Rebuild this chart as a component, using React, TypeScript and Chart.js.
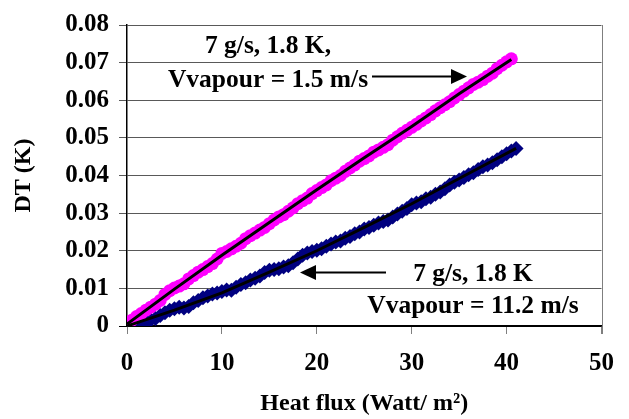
import React, { useEffect, useRef } from "react";
import { Chart, registerables } from "chart.js";

Chart.register(...registerables);

// Heat flux (W/m²) sample positions
const fluxLowV: number[] = [
  0, 0.5, 1, 1.5, 2, 2.5, 3, 3.5, 4, 4.5, 5, 5.5, 6, 6.5, 7, 7.5, 8, 8.5, 9, 9.5,
  10, 10.5, 11, 11.5, 12, 12.5, 13, 13.5, 14, 14.5, 15, 15.5, 16, 16.5, 17, 17.5, 18, 18.5, 19, 19.5,
  20, 20.5, 21, 21.5, 22, 22.5, 23, 23.5, 24, 24.5, 25, 25.5, 26, 26.5, 27, 27.5, 28, 28.5, 29, 29.5,
  30, 30.5, 31, 31.5, 32, 32.5, 33, 33.5, 34, 34.5, 35, 35.5, 36, 36.5, 37, 37.5, 38, 38.5, 39, 39.5,
  40, 40.5,
];
// DT (K) for Vvapour = 1.5 m/s (magenta)
const dtLowV: number[] = [
  0.0008, 0.0015, 0.0025, 0.0033, 0.0042, 0.005, 0.0058, 0.0068, 0.0084, 0.0094,
  0.0101, 0.0106, 0.0112, 0.0125, 0.0134, 0.0143, 0.015, 0.0158, 0.0166, 0.0178,
  0.0193, 0.0198, 0.0205, 0.0212, 0.022, 0.0232, 0.024, 0.0247, 0.0255, 0.0262,
  0.0272, 0.0282, 0.029, 0.0296, 0.0305, 0.0314, 0.0325, 0.0333, 0.034, 0.0352,
  0.036, 0.0368, 0.0375, 0.0386, 0.0393, 0.04, 0.0411, 0.042, 0.0428, 0.0438,
  0.0445, 0.0452, 0.0462, 0.0468, 0.0475, 0.0482, 0.0494, 0.0503, 0.0512, 0.052,
  0.0528, 0.0536, 0.0545, 0.0553, 0.0562, 0.0572, 0.058, 0.0588, 0.0596, 0.0606,
  0.0615, 0.0624, 0.0633, 0.0642, 0.0648, 0.0655, 0.0664, 0.0672, 0.0684, 0.0693,
  0.0702, 0.071,
];

const fluxHighV: number[] = [
  0, 0.5, 1, 1.5, 2, 2.5, 3, 3.5, 4, 4.5, 5, 5.5, 6, 6.5, 7, 7.5, 8, 8.5, 9, 9.5,
  10, 10.5, 11, 11.5, 12, 12.5, 13, 13.5, 14, 14.5, 15, 15.5, 16, 16.5, 17, 17.5, 18, 18.5, 19, 19.5,
  20, 20.5, 21, 21.5, 22, 22.5, 23, 23.5, 24, 24.5, 25, 25.5, 26, 26.5, 27, 27.5, 28, 28.5, 29, 29.5,
  30, 30.5, 31, 31.5, 32, 32.5, 33, 33.5, 34, 34.5, 35, 35.5, 36, 36.5, 37, 37.5, 38, 38.5, 39, 39.5,
  40, 40.5, 41,
];
// DT (K) for Vvapour = 11.2 m/s (navy)
const dtHighV: number[] = [
  0.0003, 0.0005, 0.0008, 0.001, 0.0012, 0.0016, 0.002, 0.0028, 0.0035, 0.0042,
  0.0046, 0.005, 0.0048, 0.0052, 0.0062, 0.0068, 0.0075, 0.008, 0.0085, 0.0088,
  0.0092, 0.0096, 0.0095, 0.0103, 0.011, 0.0115, 0.0122, 0.0127, 0.0133, 0.0142,
  0.0148, 0.015, 0.0152, 0.0157, 0.016, 0.0168, 0.0178, 0.0188, 0.0194, 0.0198,
  0.0201, 0.0205, 0.0212, 0.0218, 0.0223, 0.0226, 0.0233, 0.0238, 0.0245, 0.025,
  0.0258, 0.0262, 0.0268, 0.0274, 0.0278, 0.0282, 0.029, 0.0298, 0.0305, 0.0312,
  0.0322, 0.0327, 0.033, 0.0338, 0.0342, 0.035, 0.0356, 0.0365, 0.0375, 0.0382,
  0.0388, 0.0395, 0.0402, 0.0407, 0.0416, 0.0423, 0.0428, 0.0434, 0.0442, 0.045,
  0.0458, 0.0465, 0.0472,
];

// Trend lines
const trendLowX: number[] = [0, 5, 10, 15, 20, 25, 30, 35, 40.5];
const trendLowY: number[] = [0.0005, 0.0098, 0.0188, 0.0275, 0.0362, 0.0447, 0.053, 0.0617, 0.0708];
const trendHighX: number[] = [0, 5, 10, 15, 20, 25, 30, 35, 41];
const trendHighY: number[] = [0, 0.0042, 0.0088, 0.0143, 0.02, 0.0262, 0.0325, 0.0392, 0.0472];

const yTicks: number[] = [0, 0.01, 0.02, 0.03, 0.04, 0.05, 0.06, 0.07, 0.08];
const xTitle = "Heat flux (Watt/ m²)";
const yTitle = "DT (K)";
const labelLow = ["7 g/s, 1.8 K,", "Vvapour = 1.5 m/s"];
const labelHigh = ["7 g/s, 1.8 K", "Vvapour = 11.2 m/s"];

const FONT = "'Liberation Serif', 'Times New Roman', serif";

const zip = (xs: number[], ys: number[]) => xs.map((x, i) => ({ x, y: ys[i] }));

function arrow(ctx: CanvasRenderingContext2D, x1: number, x2: number, y: number) {
  const dir = Math.sign(x2 - x1);
  const headLen = 16;
  const half = 7.5;
  ctx.beginPath();
  ctx.moveTo(x1, y);
  ctx.lineTo(x2 - dir * headLen, y);
  ctx.strokeStyle = "#000";
  ctx.lineWidth = 2;
  ctx.stroke();
  ctx.beginPath();
  ctx.moveTo(x2, y);
  ctx.lineTo(x2 - dir * headLen, y - half);
  ctx.lineTo(x2 - dir * headLen, y + half);
  ctx.closePath();
  ctx.fillStyle = "#000";
  ctx.fill();
}

const annotPlugin = {
  id: "annot",
  afterDraw(chart: any) {
    const ctx: CanvasRenderingContext2D = chart.ctx;
    const { chartArea } = chart;
    ctx.save();
    // right border
    ctx.strokeStyle = "#7f7f7f";
    ctx.lineWidth = 1;
    ctx.beginPath();
    ctx.moveTo(Math.round(chartArea.right) + 0.5, chartArea.top);
    ctx.lineTo(Math.round(chartArea.right) + 0.5, chartArea.bottom + 8);
    ctx.stroke();

    ctx.fillStyle = "#000";
    ctx.font = `bold 25.5px ${FONT}`;
    ctx.textAlign = "center";
    ctx.textBaseline = "alphabetic";
    ctx.fillText(labelLow[0], 268, 53);
    ctx.fillText(labelLow[1], 268, 87);
    ctx.fillText(labelHigh[0], 473, 281);
    ctx.fillText(labelHigh[1], 473, 313);
    arrow(ctx, 372, 467, 76.5);
    arrow(ctx, 386, 300, 272.5);
    ctx.restore();
  },
};

export default function App() {
  const ref = useRef<HTMLCanvasElement | null>(null);
  useEffect(() => {
    if (!ref.current) return;
    const chart = new Chart(ref.current, {
      type: "scatter",
      data: {
        datasets: [
          {
            data: zip(trendLowX, trendLowY),
            showLine: true,
            borderColor: "#000",
            borderWidth: 3,
            pointRadius: 0,
            order: 0,
          },
          {
            data: zip(trendHighX, trendHighY),
            showLine: true,
            borderColor: "#000",
            borderWidth: 3,
            pointRadius: 0,
            order: 0,
          },
          {
            data: zip(fluxLowV, dtLowV),
            pointStyle: "circle",
            pointRadius: 6.5,
            backgroundColor: "#ff00ff",
            borderColor: "#ff00ff",
            borderWidth: 0,
            order: 1,
          },
          {
            data: zip(fluxHighV, dtHighV),
            pointStyle: "rectRot",
            pointRadius: 7.5,
            backgroundColor: "#000080",
            borderColor: "#000080",
            borderWidth: 0,
            order: 1,
          },
        ],
      },
      plugins: [annotPlugin],
      options: {
        animation: false,
        responsive: true,
        maintainAspectRatio: false,
        layout: { padding: { top: 19, right: 26, left: 0, bottom: 0 } },
        plugins: { legend: { display: false }, tooltip: { enabled: false } },
        scales: {
          x: {
            type: "linear",
            min: 0,
            max: 50,
            afterFit: (s: any) => {
              s.height = 93;
            },
            ticks: {
              stepSize: 10,
              color: "#000",
              padding: 15,
              font: { family: FONT, size: 25, weight: "bold" },
            },
            grid: {
              drawOnChartArea: false,
              drawTicks: true,
              tickLength: 8,
              color: "#7f7f7f",
            },
            border: { color: "#000", width: 1.5 },
            title: {
              display: true,
              text: xTitle,
              color: "#000",
              font: { family: FONT, size: 24, weight: "bold" },
              padding: { top: 0, bottom: 1 },
            },
          },
          y: {
            type: "linear",
            min: 0,
            max: 0.08,
            afterFit: (s: any) => {
              s.width = 127;
            },
            afterBuildTicks: (s: any) => {
              s.ticks = yTicks.map((v) => ({ value: v }));
            },
            ticks: {
              color: "#000",
              padding: 10,
              font: { family: FONT, size: 25, weight: "bold" },
              callback: (v: any) => (Number(v) === 0 ? "0" : Number(v).toFixed(2)),
            },
            grid: {
              color: (c: any) => (c.tick && c.tick.value === 0 ? "#000" : "#595959"),
              lineWidth: 1,
              tickLength: 8,
            },
            border: { color: "#000", width: 1.5 },
            title: {
              display: true,
              text: yTitle,
              color: "#000",
              font: { family: FONT, size: 24, weight: "bold" },
              padding: { top: 9, bottom: 0 },
            },
          },
        },
      },
    });
    return () => chart.destroy();
  }, []);
  return (
    <div style={{ position: "absolute", left: 0, top: 0, width: 629, height: 419, background: "#fff" }}>
      <canvas ref={ref} />
    </div>
  );
}
